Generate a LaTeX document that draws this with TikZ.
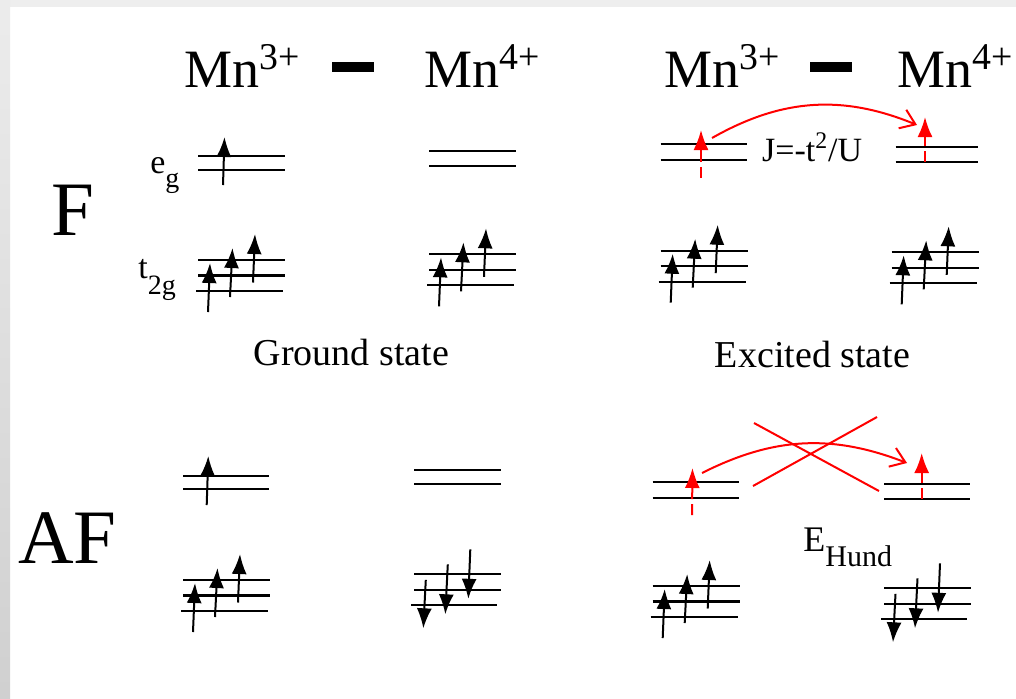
\documentclass[tikz,border=0pt]{standalone}
\usepackage{fontspec}
\setmainfont{Liberation Serif}
\usetikzlibrary{arrows.meta}

\begin{document}
\begin{tikzpicture}[x=0.5pt, y=-0.5pt,
  lvl/.style={line width=1.1pt},
  spin/.style={line width=1pt, -{Latex[length=10pt,width=7.5pt]}},
  redspin/.style={spin, draw=red, dash pattern=on 5.5pt off 2.5pt on 40pt off 1pt},
  hop/.style={draw=red, line width=1pt, -{Straight Barb[length=7pt,width=10pt]}},
  lbl/.style={inner sep=0pt, anchor=base west}]
  \useasboundingbox (0,0) rectangle (1016,698);
  % page frame
  \fill[white] (0,0) rectangle (1016,698);
  \fill[gray!13] (0,0) rectangle (1016,7);
  \shade[top color=gray!15, bottom color=gray!37] (0,0) rectangle (10,698);

  % titles
  \foreach \x/\name in {184/A, 664/B} {
    \node[lbl, font=\fontsize{27pt}{27pt}\selectfont] (mn3\name) at (\x,87.3) {Mn\textsuperscript{3+}};}
  \foreach \x/\name in {424.5/A, 897/B} {
    \node[lbl, font=\fontsize{27pt}{27pt}\selectfont] (mn4\name) at (\x,87.3) {Mn\textsuperscript{4+}};}
  \fill (332,62.3) rectangle (374,71.7);
  \fill (810,62.3) rectangle (852,71.7);
  \node[lbl, font=\fontsize{38.5pt}{38.5pt}\selectfont] (ferro) at (51,235) {F};
  \node[lbl, font=\fontsize{38.5pt}{38.5pt}\selectfont] (antiferro) at (18,563.3) {AF};
  \node[lbl, font=\fontsize{17pt}{17pt}\selectfont] (eg) at (150,173.3)
    {e\raisebox{-7pt}{\fontsize{14pt}{14pt}\selectfont g}};
  \node[lbl, font=\fontsize{17pt}{17pt}\selectfont] (tg) at (138,278.3)
    {t\raisebox{-8pt}{\fontsize{14pt}{14pt}\selectfont 2g}};
  \node[inner sep=0pt, anchor=base, font=\fontsize{19pt}{19pt}\selectfont] (ground) at (351.5,365) {Ground state};
  \node[inner sep=0pt, anchor=base, font=\fontsize{19pt}{19pt}\selectfont] (excited) at (812.5,367) {Excited state};

  % e_g doublets: left x / upper y / gap / width
  \foreach \L/\E/\D/\W in {198/155.7/14/87, 429/150.7/15/87, 660.7/144.3/16/86,
      895.7/146.7/15/82, 183.3/476/13.3/86, 414.3/470/13.7/86.5,
      652.7/481.7/16/86.5, 884/484/15.3/86} {
    \draw[lvl] (\L,\E) -- +(\W,0);
    \draw[lvl] (\L,\E+\D) -- +(\W,0);}

  % t_2g triplets, spins up
  \foreach \L/\T in {198/260, 429/254.3, 660.7/250.7, 891.7/252.3, 183/580, 652.7/586} {
    \draw[lvl] (\L,\T) -- +(87,0);
    \draw[lvl] (\L,\T+15.5) -- +(87,0);
    \draw[lvl] (\L-2,\T+31) -- +(87,0);
    \draw[spin] (\L+10,\T+52) -- (\L+12,\T+3);
    \draw[spin] (\L+32,\T+37) -- (\L+34.5,\T-12);
    \draw[spin] (\L+55,\T+22.5) -- (\L+57,\T-26);}

  % t_2g triplets, spins down
  \foreach \L/\T in {414.3/574.3, 884/588.3} {
    \draw[lvl] (\L,\T) -- +(86.5,0);
    \draw[lvl] (\L,\T+15.5) -- +(86.5,0);
    \draw[lvl] (\L-3,\T+31) -- +(85.5,0);
    \draw[spin] (\L+11.5,\T+5.5) -- (\L+9,\T+54);
    \draw[spin] (\L+33.5,\T-10) -- (\L+31,\T+40);
    \draw[spin] (\L+56,\T-25) -- (\L+54,\T+24.5);}

  % e_g electrons
  \draw[spin] (223,185) -- (224.5,137);
  \draw[spin] (206.7,505) -- (208.3,456);
  \draw[redspin] (701,178) -- (701,130);
  \draw[redspin] (925,162) -- (925,117);
  \draw[redspin] (692,515) -- (692.5,468);
  \draw[redspin] (921.7,499) -- (921.7,453);

  % hopping
  \coordinate (hopF1) at (712,138);
  \coordinate (hopF2) at (917,125);
  \coordinate (hopAF1) at (702,473);
  \coordinate (hopAF2) at (907,463);
  \draw[hop] (hopF1) to[bend left=26] (hopF2);
  \draw[hop] (hopAF1) to[bend left=24] (hopAF2);
  \draw[red, line width=1pt] (754,423) -- (879,491);
  \draw[red, line width=1pt] (753,486) -- (877,417);
  \node[lbl, font=\fontsize{17pt}{17pt}\selectfont] (exch) at (761.7,161) {J=-t\textsuperscript{2}/U};
  \node[lbl, font=\fontsize{18pt}{18pt}\selectfont] (hund) at (803,551.7)
    {E\raisebox{-7.5pt}{\fontsize{15pt}{15pt}\selectfont Hund}};
\end{tikzpicture}
\end{document}
